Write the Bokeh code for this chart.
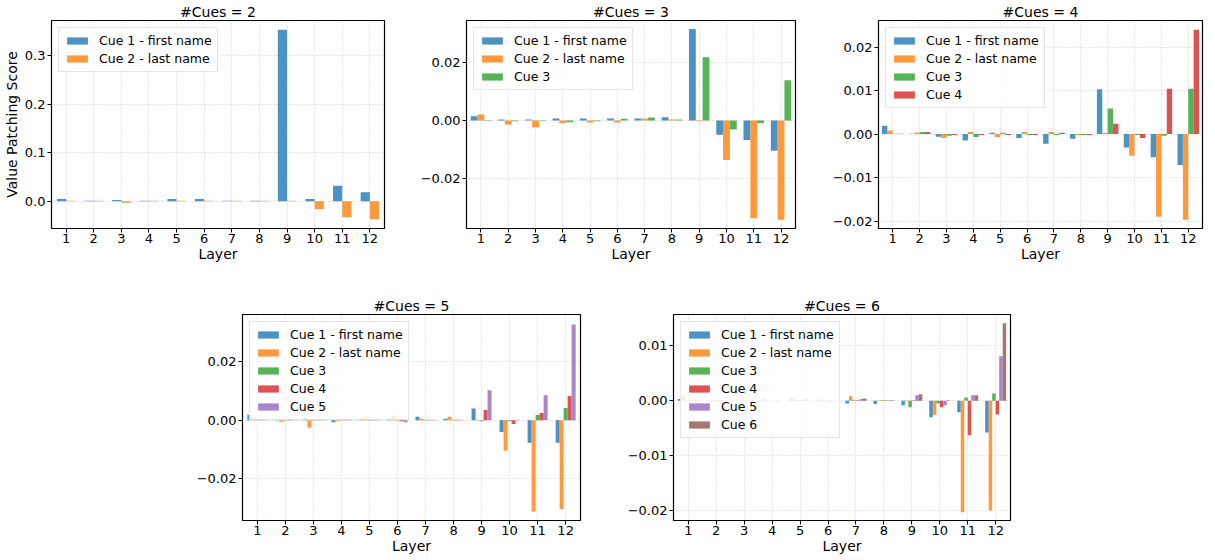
from bokeh.plotting import figure
from bokeh.models import FixedTicker, CustomJSTickFormatter, Range1d, Spacer
from bokeh.layouts import row, column
from bokeh.embed import file_html
from bokeh.resources import INLINE
import numpy as np

layers = [1, 2, 3, 4, 5, 6, 7, 8, 9, 10, 11, 12]
cue_labels = ["Cue 1 - first name", "Cue 2 - last name", "Cue 3", "Cue 4", "Cue 5", "Cue 6"]
colors = ["#1f77b4", "#ff7f0e", "#2ca02c", "#d62728", "#9467bd", "#8c564b"]

cues2_c1 = [0.005, 0.001, 0.003, 0.001, 0.005, 0.005, 0.001, 0.001, 0.354, 0.005, 0.032, 0.019]
cues2_c2 = [0.001, 0.001, -0.003, 0.001, 0.001, 0.001, 0.001, 0.001, 0.001, -0.016, -0.033, -0.037]

cues3_c1 = [0.0014, 0.0003, 0.0003, 0.0007, 0.0007, 0.0007, 0.0007, 0.0011, 0.0314, -0.0049, -0.0067, -0.0104]
cues3_c2 = [0.0020, -0.0014, -0.0024, -0.0010, -0.0007, -0.0007, 0.0007, 0.0003, -0.0003, -0.0136, -0.0336, -0.0341]
cues3_c3 = [-0.0002, -0.0003, -0.0002, -0.0006, -0.0003, 0.0006, 0.0010, 0.0003, 0.0217, -0.0031, -0.0010, 0.0138]

cues4_c1 = [0.0019, 0.0001, -0.0006, -0.0015, 0.0003, -0.0009, -0.0022, -0.0011, 0.0103, -0.0031, -0.0053, -0.0071]
cues4_c2 = [0.0008, 0.0003, -0.0009, 0.0005, -0.0007, 0.0005, 0.0005, -0.0002, 0.0003, -0.0050, -0.0190, -0.0197]
cues4_c3 = [0.0001, 0.0005, -0.0004, -0.0007, 0.0003, -0.0002, -0.0002, -0.0002, 0.0059, -0.0002, -0.0004, 0.0104]
cues4_c4 = [0.0001, 0.0005, -0.0002, -0.0002, -0.0002, -0.0002, 0.0003, -0.0002, 0.0024, -0.0009, 0.0104, 0.0240]

cues5_c1 = [0.0019, 0.0002, 0.0009, -0.0007, 0.0005, 0.0005, 0.0012, 0.0005, 0.0040, -0.0040, -0.0077, -0.0077]
cues5_c2 = [0.0010, -0.0005, -0.0026, -0.0003, 0.0012, 0.0017, 0.0005, 0.0012, 0.0002, -0.0104, -0.0312, -0.0304]
cues5_c3 = [0.0003, 0.0002, 0.0003, 0.0002, 0.0005, 0.0003, 0.0002, 0.0002, -0.0003, -0.0003, 0.0018, 0.0042]
cues5_c4 = [0.0003, 0.0005, 0.0003, 0.0003, 0.0002, -0.0003, 0.0002, 0.0002, 0.0035, -0.0013, 0.0025, 0.0083]
cues5_c5 = [0.0003, 0.0003, 0.0003, 0.0005, 0.0002, -0.0007, 0.0002, 0.0002, 0.0103, 0.0002, 0.0086, 0.0328]

cues6_c1 = [0.0003, 0.0001, 0.0001, 0.0003, 0.0004, 0.0002, -0.0005, -0.0006, -0.0008, -0.0030, -0.0021, -0.0058]
cues6_c2 = [0.0008, -0.0003, 0.0001, -0.0002, 0.0002, 0.0002, 0.0008, 0.0001, 0.0001, -0.0026, -0.0203, -0.0200]
cues6_c3 = [0.0002, 0.0001, -0.0001, -0.0001, 0.0001, -0.0001, 0.0001, 0.0001, -0.0012, -0.0005, 0.0006, 0.0013]
cues6_c4 = [0.0001, -0.0002, 0.0001, -0.0001, 0.0001, -0.0002, 0.0001, 0.0001, 0.0001, -0.0012, -0.0063, -0.0025]
cues6_c5 = [0.0002, 0.0002, 0.0001, -0.0002, 0.0003, -0.0002, 0.0003, 0.0001, 0.0010, -0.0008, 0.0010, 0.0081]
cues6_c6 = [0.0001, 0.0001, 0.0001, 0.0000, 0.0001, -0.0002, 0.0004, 0.0001, 0.0012, 0.0001, 0.0010, 0.0141]

titles = ["#Cues = 2", "#Cues = 3", "#Cues = 4", "#Cues = 5", "#Cues = 6"]
yticks2 = [0.0, 0.1, 0.2, 0.3]
yticks3 = [-0.02, 0.0, 0.02]
yticks4 = [-0.02, -0.01, 0.0, 0.01, 0.02]
yticks5 = [-0.02, 0.0, 0.02]
yticks6 = [-0.02, -0.01, 0.0, 0.01]

FONT = "DejaVu Sans"


def make(title, series, bar_w, yr, yticks, dec, w, h, borders, ylabel=None):
    p = figure(width=w, height=h, x_range=Range1d(0.47, 12.53), y_range=Range1d(*yr),
               output_backend="svg", toolbar_location=None,
               min_border_left=borders[0], min_border_right=borders[1],
               min_border_top=borders[2], min_border_bottom=borders[3])
    n = len(series)
    x = np.array(layers, dtype=float)
    for i, vals in enumerate(series):
        xs = x + (i - (n - 1) / 2.0) * bar_w
        p.vbar(x=xs, top=vals, bottom=0, width=bar_w, fill_color=colors[i], fill_alpha=0.8,
               line_color=None, legend_label=cue_labels[i])
    p.title.text = title
    p.title.align = "center"
    p.title.text_font = FONT
    p.title.text_font_size = "14px"
    p.title.text_font_style = "normal"
    p.title.text_color = "black"
    p.title.text_line_height = 1.0
    p.title.standoff = 2
    p.outline_line_color = "black"
    p.outline_line_width = 1.2
    p.outline_line_alpha = 1
    p.xaxis.ticker = FixedTicker(ticks=layers)
    p.yaxis.ticker = FixedTicker(ticks=yticks)
    p.yaxis.formatter = CustomJSTickFormatter(args=dict(d=dec), code="""
        return tick.toFixed(d).replace('-', '\u2212');
    """)
    for ax in (p.xaxis, p.yaxis):
        ax.axis_line_color = None
        ax.major_tick_out = 4
        ax.major_tick_in = 0
        ax.minor_tick_line_color = None
        ax.major_tick_line_color = "black"
        ax.major_label_text_font = FONT
        ax.major_label_text_font_size = "13px"
        ax.major_label_text_color = "black"
        ax.major_label_text_line_height = 1.0
        ax.major_label_standoff = 2
        ax.axis_label_text_font = FONT
        ax.axis_label_text_font_size = "14px"
        ax.axis_label_text_font_style = "normal"
        ax.axis_label_text_color = "black"
        ax.axis_label_text_line_height = 1.0
        ax.axis_label_standoff = 2
    p.xaxis.major_label_standoff = 1
    p.xaxis.axis_label_standoff = 0
    p.xaxis.axis_label = "Layer"
    if ylabel:
        p.yaxis.axis_label = ylabel
    for g in (p.xgrid, p.ygrid):
        g.grid_line_color = "#b0b0b0"
        g.grid_line_alpha = 0.6
        g.grid_line_dash = "1 2"
    p.xgrid.ticker = FixedTicker(ticks=layers)
    p.ygrid.ticker = FixedTicker(ticks=yticks)
    lg = p.legend[0]
    lg.location = "top_left"
    lg.margin = 7
    lg.padding = 5
    lg.spacing = 3
    lg.label_height = 15
    lg.glyph_height = 9
    lg.glyph_width = 26
    lg.label_standoff = 9
    lg.label_text_font = FONT
    lg.label_text_font_size = "12.5px"
    lg.label_text_color = "black"
    lg.background_fill_alpha = 0.8
    lg.border_line_color = "#cccccc"
    lg.border_line_width = 1
    p.background_fill_color = "white"
    p.border_fill_color = "white"
    return p


H1 = 264
H2 = 292
f1 = make(titles[0], [cues2_c1, cues2_c2], 1 / 3, (-0.056, 0.373), yticks2, 1,
          417, H1, (41, 33, 14, 30), ylabel="Value Patching Score")
f2 = make(titles[1], [cues3_c1, cues3_c2, cues3_c3], 1 / 4, (-0.0371, 0.0343), yticks3, 2,
          412, H1, (40, 34, 14, 30))
f3 = make(titles[2], [cues4_c1, cues4_c2, cues4_c3, cues4_c4], 1 / 5, (-0.0217, 0.0261), yticks4, 2,
          376, H1, (40, 3, 14, 30))
f4 = make(titles[3], [cues5_c1, cues5_c2, cues5_c3, cues5_c4, cues5_c5], 1 / 7, (-0.0343, 0.0362), yticks5, 2,
          430, H2, (50, 42, 50, 30))
f5 = make(titles[4], [cues6_c1, cues6_c2, cues6_c3, cues6_c4, cues6_c5, cues6_c6], 1 / 8, (-0.0218, 0.0157), yticks6, 2,
          410, H2, (51, 22, 50, 30))

layout = column(row(f1, f2, f3), row(Spacer(width=192, height=H2), f4, f5))

open("out.html", "w").write(file_html(layout, INLINE))
